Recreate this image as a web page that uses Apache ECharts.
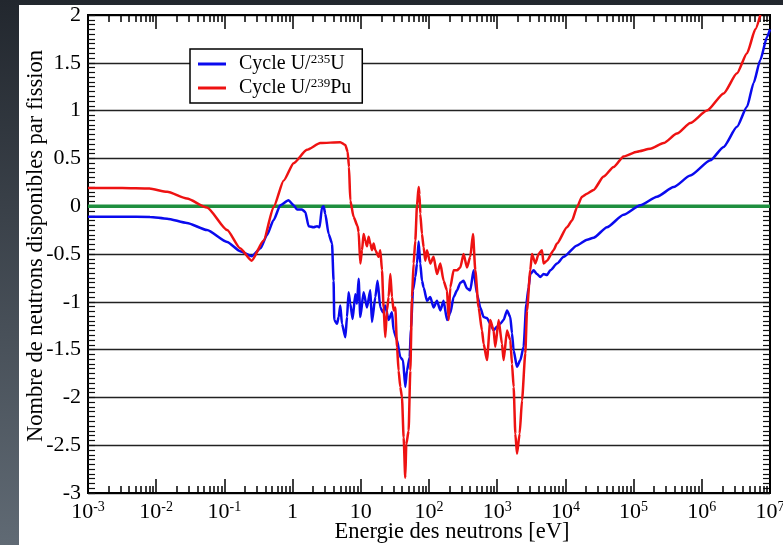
<!DOCTYPE html>
<html>
<head>
<meta charset="utf-8">
<script src="https://cdn.jsdelivr.net/npm/echarts@6/dist/echarts.min.js"></script>
<style>
  html, body { margin: 0; padding: 0; }
  #chart { width: 783px; height: 545px; }
</style>
</head>
<body>
<div id="chart"></div>
<script>
// x values are log10 of the neutron energy in eV
const decades = [-3, -2, -1, 0, 1, 2, 3, 4, 5, 6, 7];
const seriesNames = ["Cycle U/235U", "Cycle U/239Pu"];
const xTitle = "Energie des neutrons [eV]";
const yTitle = "Nombre de neutrons disponibles par fission";

// Cycle U/235U
const u235 = [
  [-3, -0.11], [-2.5, -0.11], [-2.09, -0.112], [-1.84, -0.13], [-1.55, -0.175], [-1.255, -0.25],
  [-0.96, -0.374], [-0.77, -0.47], [-0.6, -0.524], [-0.47, -0.44], [-0.375, -0.30], [-0.28, -0.147],
  [-0.18, 0.01], [-0.06, 0.063], [0.015, 0.01], [0.065, -0.035], [0.138, -0.035], [0.186, -0.06],
  [0.235, -0.21], [0.308, -0.22], [0.358, -0.21], [0.396, -0.22], [0.431, -0.01], [0.455, 0.0],
  [0.479, -0.08], [0.528, -0.29], [0.578, -0.39], [0.601, -0.78], [0.611, -1.19], [0.651, -1.23],
  [0.675, -1.16], [0.699, -1.04], [0.724, -1.23], [0.773, -1.37], [0.798, -1.16], [0.821, -0.90],
  [0.846, -1.02], [0.880, -1.18], [0.919, -0.92], [0.944, -1.02], [0.968, -0.76], [0.993, -1.16],
  [1.041, -0.90], [1.091, -1.06], [1.139, -0.88], [1.164, -1.21], [1.213, -0.95], [1.246, -0.78],
  [1.286, -1.06], [1.326, -1.11], [1.359, -1.04], [1.408, -1.19], [1.457, -1.11], [1.481, -1.30],
  [1.531, -1.40], [1.579, -1.58], [1.619, -1.61], [1.652, -1.89], [1.677, -1.72], [1.716, -1.58],
  [1.736, -1.27], [1.765, -0.88], [1.799, -0.74], [1.824, -0.60], [1.848, -0.37], [1.872, -0.60],
  [1.897, -0.78], [1.921, -0.85], [1.971, -0.99], [2.019, -0.95], [2.067, -1.06], [2.117, -0.99],
  [2.166, -1.09], [2.214, -0.99], [2.264, -1.19], [2.312, -1.12], [2.361, -0.95], [2.411, -0.88],
  [2.459, -0.80], [2.507, -0.78], [2.557, -0.86], [2.605, -0.88], [2.654, -0.67], [2.704, -0.92],
  [2.752, -1.06], [2.801, -1.16], [2.850, -1.17], [2.899, -1.23], [2.947, -1.30], [2.997, -1.26],
  [3.045, -1.23], [3.094, -1.19], [3.144, -1.09], [3.192, -1.16], [3.217, -1.33], [3.241, -1.51],
  [3.290, -1.68], [3.339, -1.61], [3.387, -1.47], [3.427, -1.02], [3.460, -0.85], [3.485, -0.71],
  [3.534, -0.67], [3.584, -0.71], [3.632, -0.74], [3.680, -0.71], [3.730, -0.72], [3.779, -0.67],
  [3.877, -0.60], [3.974, -0.53], [4.170, -0.41], [4.317, -0.35], [4.413, -0.33], [4.610, -0.22],
  [4.853, -0.09], [5.098, 0.01], [5.343, 0.10], [5.587, 0.20], [5.831, 0.32], [6.125, 0.48],
  [6.320, 0.62], [6.516, 0.83], [6.663, 1.04], [6.760, 1.29], [6.858, 1.53], [6.956, 1.77], [7.0, 1.85]
];

// Cycle U/239Pu
const pu239 = [
  [-3, 0.19], [-2.5, 0.19], [-2.1, 0.185], [-1.84, 0.15], [-1.55, 0.08], [-1.255, -0.014],
  [-0.96, -0.25], [-0.77, -0.44], [-0.6, -0.57], [-0.425, -0.36], [-0.28, -0.01], [-0.13, 0.27],
  [0.015, 0.45], [0.21, 0.59], [0.406, 0.66], [0.699, 0.67], [0.773, 0.64], [0.807, 0.57],
  [0.827, 0.41], [0.846, 0.06], [0.894, -0.11], [0.953, -0.21], [0.968, -0.27], [0.993, -0.60],
  [1.018, -0.46], [1.041, -0.29], [1.066, -0.36], [1.091, -0.42], [1.114, -0.32], [1.139, -0.39],
  [1.164, -0.46], [1.188, -0.39], [1.213, -0.46], [1.261, -0.53], [1.286, -0.46], [1.311, -0.67],
  [1.334, -1.06], [1.359, -1.37], [1.384, -1.09], [1.408, -0.95], [1.433, -0.71], [1.457, -0.95],
  [1.481, -1.09], [1.506, -1.06], [1.531, -1.47], [1.554, -1.72], [1.579, -1.89], [1.604, -2.00],
  [1.628, -2.42], [1.652, -2.84], [1.667, -2.49], [1.701, -2.35], [1.726, -1.72], [1.751, -0.95],
  [1.774, -0.60], [1.799, -0.36], [1.824, 0.01], [1.848, 0.20], [1.861, 0.12], [1.872, -0.08],
  [1.897, -0.29], [1.921, -0.43], [1.946, -0.57], [1.971, -0.46], [2.019, -0.60], [2.067, -0.53],
  [2.117, -0.71], [2.166, -0.60], [2.214, -0.78], [2.264, -0.88], [2.288, -1.19], [2.312, -0.85],
  [2.361, -0.67], [2.411, -0.67], [2.459, -0.64], [2.507, -0.50], [2.557, -0.64], [2.605, -0.53],
  [2.645, -0.29], [2.679, -0.67], [2.727, -1.06], [2.777, -1.30], [2.801, -1.44], [2.850, -1.61],
  [2.899, -1.19], [2.947, -1.30], [2.972, -1.47], [3.021, -1.19], [3.070, -1.44], [3.094, -1.61],
  [3.144, -1.30], [3.192, -1.40], [3.217, -1.65], [3.241, -1.89], [3.266, -2.38], [3.290, -2.59],
  [3.329, -2.38], [3.364, -2.03], [3.412, -1.54], [3.437, -1.09], [3.485, -0.67], [3.510, -0.50],
  [3.559, -0.60], [3.607, -0.50], [3.657, -0.46], [3.680, -0.60], [3.730, -0.57], [3.827, -0.46],
  [3.877, -0.39], [4.023, -0.22], [4.097, -0.15], [4.170, -0.01], [4.243, 0.10], [4.317, 0.13],
  [4.413, 0.17], [4.560, 0.31], [4.707, 0.41], [4.853, 0.52], [5.050, 0.57], [5.245, 0.60],
  [5.440, 0.66], [5.636, 0.76], [5.831, 0.87], [6.076, 1.00], [6.320, 1.18], [6.516, 1.39],
  [6.663, 1.60], [6.785, 1.85], [6.858, 2.00]
];

const zeroLine = [[-3, 0], [7, 0]];

const FONT = "Liberation Serif";

// minor ticks at 2..9 inside each decade
const xMinor = [];
decades.slice(0, -1).forEach(d => {
  for (let k = 2; k <= 9; k++) xMinor.push(d + Math.log10(k));
});
// minor ticks every 0.05 on the value axis
const yMinor = [];
for (let i = 0; i <= 100; i++) yMinor.push(Math.round((-3 + i * 0.05) * 100) / 100);

const richText = {
  n: { fontFamily: FONT, fontSize: 22, color: "#000", lineHeight: 24 },
  s: { fontFamily: FONT, fontSize: 14, color: "#000", lineHeight: 14, verticalAlign: "top" }
};

function decadeLabel(v) {
  const p = Math.round(v);
  if (p === 0) return "{n|1}";
  if (p === 1) return "{n|10}";
  return "{n|10}{s|" + p + "}";
}

function legendLabel(name) {
  const m = name.match(/^(.*\/)(\d+)(\D+)$/);
  return "{l|" + m[1] + "}{t|" + m[2] + "}{l|" + m[3] + "}";
}

function frameLine() {
  return { show: true, onZero: false, lineStyle: { color: "#000", width: 2 } };
}
function tickAxisX(position, length, values) {
  return {
    type: "value", min: -3, max: 7, position: position, interval: 1,
    axisLine: frameLine(),
    splitLine: { show: false },
    axisLabel: { show: false },
    axisTick: values
      ? { show: true, inside: true, length: length, customValues: values, lineStyle: { color: "#000", width: 1.5 } }
      : { show: true, inside: true, length: length, lineStyle: { color: "#000", width: 1.5 } }
  };
}
function tickAxisY(position) {
  return {
    type: "value", min: -3, max: 2, position: position,
    axisLine: frameLine(),
    splitLine: { show: false },
    axisLabel: { show: false },
    axisTick: { show: true, inside: true, length: 7, customValues: yMinor, lineStyle: { color: "#111", width: 1.2 } }
  };
}

const mainX = tickAxisX("bottom", 14, null);
mainX.axisLabel = { show: true, margin: 7, formatter: decadeLabel, rich: richText };

const mainY = {
  type: "value", min: -3, max: 2, interval: 0.5, position: "left",
  axisLine: frameLine(),
  axisTick: { show: false },
  splitLine: { show: true, lineStyle: { color: "#222", width: 1.3 } },
  axisLabel: { show: true, margin: 7, fontFamily: FONT, fontSize: 22, color: "#000" }
};

const titleFont = "22.5px \"" + FONT + "\"";

const chart = echarts.init(document.getElementById("chart"));
chart.setOption({
  animation: false,
  graphic: [
    {
      type: "rect", z: -100, silent: true,
      shape: { x: 0, y: 0, width: 783, height: 545 },
      style: {
        fill: new echarts.graphic.LinearGradient(0, 0, 0, 1, [
          { offset: 0, color: "#22272e" },
          { offset: 1, color: "#606a74" }
        ])
      }
    },
    {
      type: "rect", z: -99, silent: true,
      shape: { x: 19, y: 5, width: 764, height: 540 },
      style: { fill: "#fff" }
    },
    {
      type: "text", x: 452, y: 532, silent: true,
      style: { text: xTitle, font: titleFont, fill: "#000", align: "center", verticalAlign: "middle" }
    },
    {
      type: "text", x: 36, y: 246, rotation: Math.PI / 2, silent: true,
      style: { text: yTitle, font: titleFont, fill: "#000", align: "center", verticalAlign: "middle" }
    }
  ],
  grid: { left: 88, right: 13, top: 15, bottom: 52, outerBoundsMode: "none" },
  legend: {
    data: seriesNames,
    orient: "vertical",
    left: 190, top: 49,
    backgroundColor: "#fff",
    borderColor: "#000", borderWidth: 1.5, borderRadius: 0,
    padding: [4, 11, 5, 8],
    itemGap: 3, itemWidth: 28, itemHeight: 3,
    icon: "rect",
    formatter: legendLabel,
    textStyle: {
      padding: [0, 0, 0, 8],
      rich: {
        l: { fontFamily: FONT, fontSize: 20, color: "#000", lineHeight: 22 },
        t: { fontFamily: FONT, fontSize: 13, color: "#000", lineHeight: 13, verticalAlign: "top" }
      }
    }
  },
  xAxis: [
    mainX,
    tickAxisX("bottom", 7, xMinor),
    tickAxisX("top", 14, null),
    tickAxisX("top", 7, xMinor)
  ],
  // tick-only axes first, the labelled axis last
  yAxis: [
    tickAxisY("left"),
    tickAxisY("right"),
    mainY
  ],
  series: [
    {
      type: "line", name: "zero", data: zeroLine, symbol: "none", yAxisIndex: 2,
      lineStyle: { color: "#1f8f3f", width: 3.5 }, z: 2
    },
    {
      type: "line", name: seriesNames[0], data: u235, symbol: "none", yAxisIndex: 2,
      smooth: 0.2, smoothMonotone: "x",
      color: "#0a0aee",
      lineStyle: { color: "#0a0aee", width: 2.5 }, z: 3
    },
    {
      type: "line", name: seriesNames[1], data: pu239, symbol: "none", yAxisIndex: 2,
      smooth: 0.2, smoothMonotone: "x",
      color: "#ee1212",
      lineStyle: { color: "#ee1212", width: 2.5 }, z: 4
    }
  ]
});
</script>
</body>
</html>
